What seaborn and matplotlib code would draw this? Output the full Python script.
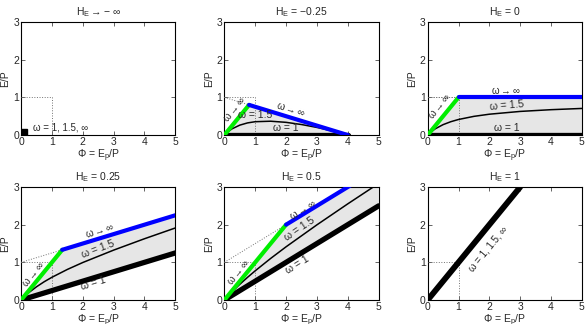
import seaborn as sns
import matplotlib.pyplot as plt

sns.set_style("ticks")
plt.rcParams['font.family'] = ['Liberation Sans', 'DejaVu Sans']
plt.rcParams['mathtext.default'] = 'regular'
plt.rcParams['font.size'] = 7.5

ARR = r'$\rightarrow$'
titles = ['H$_E$' + ARR + '− ∞', 'H$_E$ = −0.25', 'H$_E$ = 0',
          'H$_E$ = 0.25', 'H$_E$ = 0.5', 'H$_E$ = 1']

# panels with the full set of curves: H_E = -0.25, 0, 0.25, 0.5
# omega -> inf, water limited branch (green)
green_phi = [[0, 0.8], [0, 1.0], [0, 1.333], [0, 2.0]]
green_e = [[0, 0.8], [0, 1.0], [0, 1.333], [0, 2.0]]
# omega -> inf, energy limited branch (blue)
blue_phi = [[0.8, 4.0], [1.0, 5.0], [1.333, 5.0], [2.0, 5.0]]
blue_e = [[0.8, 0.0], [1.0, 1.0], [1.333, 2.25], [2.0, 3.5]]
# omega = 1
w1_phi = [[0, 4.0], [0, 5.0], [0, 5.0], [0, 5.0]]
w1_e = [[0, 0.0], [0, 0.0], [0, 1.25], [0, 2.5]]
# omega = 1.5
w15_phi = [
    [0, 0.1, 0.25, 0.5, 0.75, 1, 1.5, 2, 2.5, 3, 3.5, 3.75, 4],
    [0, 0.1, 0.25, 0.5, 0.75, 1, 1.5, 2, 3, 4, 5],
    [0, 0.1, 0.25, 0.5, 0.75, 1, 1.5, 2, 3, 4, 5],
    [0, 0.1, 0.25, 0.5, 0.75, 1, 1.5, 2, 3, 4, 5],
]
w15_e = [
    [0, 0.079, 0.166, 0.263, 0.322, 0.354, 0.367, 0.337, 0.279, 0.202, 0.109, 0.057, 0],
    [0, 0.079, 0.168, 0.276, 0.354, 0.413, 0.496, 0.553, 0.627, 0.673, 0.706],
    [0, 0.086, 0.197, 0.352, 0.486, 0.604, 0.812, 0.996, 1.325, 1.627, 1.913],
    [0, 0.093, 0.221, 0.418, 0.602, 0.776, 1.104, 1.413, 1.996, 2.553, 3.094],
]
# H_E = 1: all curves collapse onto one line
one_phi = [0, 3]
one_e = [0, 3]

INF = 'ω' + ARR + '∞'
# label placement (text, x, y, angle in data space, size) per panel
labels = [
    [(INF, 0.33, 0.68, 45, 7), ('ω = 1.5', 1.0, 0.53, 0, 7.5), (INF, 2.15, 0.7, -14, 7), ('ω = 1', 2.0, 0.18, 0, 7.5)],
    [(INF, 0.38, 0.76, 45, 7), ('ω = 1.5', 2.55, 0.78, 4, 7.5), (INF, 2.55, 1.19, 0, 7), ('ω = 1', 2.55, 0.18, 0, 7.5)],
    [(INF, 0.38, 0.70, 45, 7), ('ω = 1.5', 2.5, 1.36, 17, 7.5), (INF, 2.55, 1.84, 14, 7), ('ω = 1', 2.35, 0.45, 14, 7.5)],
    [(INF, 0.44, 0.74, 45, 7), ('ω = 1.5', 2.45, 1.9, 29, 7.5), (INF, 2.55, 2.4, 26.6, 7), ('ω = 1', 2.38, 0.94, 26.6, 7.5)],
]

fig, axes = plt.subplots(2, 3, figsize=(5.86, 3.24), dpi=100)
fig.subplots_adjust(left=0.036, right=0.993, bottom=0.074, top=0.932,
                    wspace=0.318, hspace=0.46)
axes = axes.ravel()

fill_c = '#e6e6e6'
for i, ax in enumerate(axes):
    # dotted guide box
    ax.plot([0, 1, 1], [1, 1, 0], ls=':', color='0.45', lw=0.7, zorder=3)

for k, i in enumerate([1, 2, 3, 4]):
    ax = axes[i]
    px = green_phi[k] + blue_phi[k] + w1_phi[k][::-1]
    py = green_e[k] + blue_e[k] + w1_e[k][::-1]
    ax.fill(px, py, color=fill_c, lw=0, zorder=1)
    ax.plot([0, green_phi[k][-1]], [1, green_e[k][-1]], ls=':', color='0.45', lw=0.7, zorder=3)
    sns.lineplot(x=w15_phi[k], y=w15_e[k], ax=ax, color='k', lw=1.1,
                 estimator=None, sort=False, zorder=4)
    sns.lineplot(x=w1_phi[k], y=w1_e[k], ax=ax, color='k', lw=3.8,
                 estimator=None, sort=False, zorder=4)
    sns.lineplot(x=green_phi[k], y=green_e[k], ax=ax, color='#00ee00', lw=3,
                 estimator=None, sort=False, zorder=5)
    sns.lineplot(x=blue_phi[k], y=blue_e[k], ax=ax, color='#0000ff', lw=3,
                 estimator=None, sort=False, zorder=5)
    for s, x, y, a, fs in labels[k]:
        ax.text(x, y, s, rotation=a, transform_rotates_text=True,
                rotation_mode='anchor', ha='center', va='center', fontsize=fs, zorder=6)

# H_E -> -inf: everything at the origin
axes[0].plot([0], [0], marker='s', ms=9, color='k', zorder=5)
axes[0].text(0.4, 0.2, 'ω = 1, 1.5, ∞', ha='left', va='center', fontsize=7)

# H_E = 1
sns.lineplot(x=one_phi, y=one_e, ax=axes[5], color='k', lw=4.2,
             estimator=None, sort=False, zorder=5)
axes[5].text(1.95, 1.37, 'ω = 1, 1.5, ∞', rotation=45, transform_rotates_text=True,
             rotation_mode='anchor', ha='center', va='center', fontsize=7)

for i, ax in enumerate(axes):
    ax.set_xlim(0, 5)
    ax.set_ylim(0, 3)
    ax.set_xticks(range(6))
    ax.set_yticks(range(4))
    ax.tick_params(direction='in', top=True, right=True, length=3, width=0.5,
                   pad=1.5, labelsize=7.5)
    for sp in ax.spines.values():
        sp.set_linewidth(0.8)
        sp.set_color('k')
    ax.set_title(titles[i], fontsize=7.5, pad=5)
    ax.set_xlabel('Φ = E$_p$/P', fontsize=7.5, labelpad=0.5)
    ax.set_ylabel('E/P', fontsize=7.5, labelpad=2)

fig.savefig('out.png', dpi=100)
